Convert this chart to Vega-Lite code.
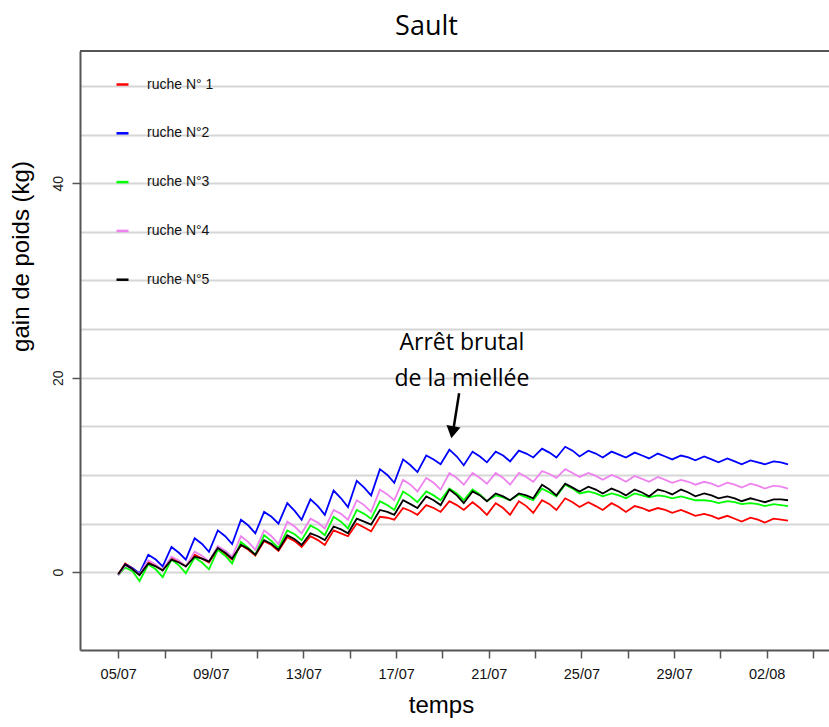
{
  "$schema": "https://vega.github.io/schema/vega-lite/v6.json",
  "description": "Gain de poids de cinq ruches a Sault, juillet-aout.",
  "width": 749,
  "height": 599,
  "autosize": {"type": "none"},
  "padding": {"left": 80, "top": 51, "right": 0, "bottom": 77},
  "background": "white",
  "title": {
    "text": "Sault",
    "font": "Open Sans",
    "fontSize": 27,
    "fontWeight": "normal",
    "color": "black",
    "anchor": "middle",
    "dx": -28,
    "offset": 9
  },
  "data": {
    "values": [
      {"jour": 0, "r1": -0.2, "r2": -0.3, "r3": -0.3, "r4": -0.3, "r5": -0.2},
      {"jour": 0.3, "r1": 0.9, "r2": 0.8, "r3": 0.5, "r4": 0.7, "r5": 0.8},
      {"jour": 0.62, "r1": 0.4, "r2": 0.4, "r3": 0.1, "r4": 0.3, "r5": 0.3},
      {"jour": 0.92, "r1": -0.2, "r2": -0.1, "r3": -0.9, "r4": -0.2, "r5": -0.3},
      {"jour": 1.3, "r1": 1.1, "r2": 1.8, "r3": 0.8, "r4": 1.2, "r5": 0.9},
      {"jour": 1.62, "r1": 0.7, "r2": 1.3, "r3": 0.3, "r4": 0.8, "r5": 0.6},
      {"jour": 1.92, "r1": 0.2, "r2": 0.6, "r3": -0.5, "r4": 0.2, "r5": 0.2},
      {"jour": 2.3, "r1": 1.5, "r2": 2.6, "r3": 1.3, "r4": 1.6, "r5": 1.3},
      {"jour": 2.62, "r1": 1.1, "r2": 2.0, "r3": 0.7, "r4": 1.2, "r5": 1.0},
      {"jour": 2.92, "r1": 0.6, "r2": 1.3, "r3": -0.1, "r4": 0.6, "r5": 0.6},
      {"jour": 3.3, "r1": 1.8, "r2": 3.5, "r3": 1.5, "r4": 2.1, "r5": 1.6},
      {"jour": 3.62, "r1": 1.4, "r2": 2.9, "r3": 1.0, "r4": 1.7, "r5": 1.4},
      {"jour": 3.92, "r1": 1.0, "r2": 2.1, "r3": 0.3, "r4": 1.1, "r5": 1.1},
      {"jour": 4.3, "r1": 2.4, "r2": 4.3, "r3": 2.3, "r4": 2.7, "r5": 2.5},
      {"jour": 4.62, "r1": 1.9, "r2": 3.7, "r3": 1.7, "r4": 2.2, "r5": 2.0},
      {"jour": 4.92, "r1": 1.3, "r2": 2.9, "r3": 0.9, "r4": 1.6, "r5": 1.4},
      {"jour": 5.3, "r1": 2.8, "r2": 5.4, "r3": 3.1, "r4": 3.7, "r5": 2.8},
      {"jour": 5.62, "r1": 2.3, "r2": 4.8, "r3": 2.5, "r4": 3.1, "r5": 2.4},
      {"jour": 5.92, "r1": 1.7, "r2": 4.0, "r3": 1.8, "r4": 2.3, "r5": 1.8},
      {"jour": 6.3, "r1": 3.2, "r2": 6.2, "r3": 3.8, "r4": 4.3, "r5": 3.3},
      {"jour": 6.62, "r1": 2.8, "r2": 5.7, "r3": 3.2, "r4": 3.7, "r5": 2.9},
      {"jour": 6.92, "r1": 2.2, "r2": 5.0, "r3": 2.5, "r4": 2.9, "r5": 2.3},
      {"jour": 7.3, "r1": 3.6, "r2": 7.1, "r3": 4.3, "r4": 5.2, "r5": 3.8},
      {"jour": 7.62, "r1": 3.2, "r2": 6.3, "r3": 3.9, "r4": 4.7, "r5": 3.4},
      {"jour": 7.92, "r1": 2.6, "r2": 5.4, "r3": 3.3, "r4": 4.0, "r5": 2.8},
      {"jour": 8.3, "r1": 3.7, "r2": 7.5, "r3": 4.8, "r4": 5.5, "r5": 4.0},
      {"jour": 8.62, "r1": 3.3, "r2": 6.8, "r3": 4.4, "r4": 5.1, "r5": 3.7},
      {"jour": 8.92, "r1": 2.8, "r2": 5.9, "r3": 3.8, "r4": 4.5, "r5": 3.3},
      {"jour": 9.3, "r1": 4.3, "r2": 8.4, "r3": 5.7, "r4": 6.4, "r5": 4.7},
      {"jour": 9.62, "r1": 4.0, "r2": 7.6, "r3": 5.2, "r4": 6.0, "r5": 4.4},
      {"jour": 9.92, "r1": 3.7, "r2": 6.7, "r3": 4.5, "r4": 5.4, "r5": 4.0},
      {"jour": 10.3, "r1": 5.0, "r2": 9.4, "r3": 6.4, "r4": 7.4, "r5": 5.5},
      {"jour": 10.62, "r1": 4.6, "r2": 8.7, "r3": 6.0, "r4": 6.9, "r5": 5.2},
      {"jour": 10.92, "r1": 4.2, "r2": 7.9, "r3": 5.5, "r4": 6.2, "r5": 4.9},
      {"jour": 11.3, "r1": 5.7, "r2": 10.6, "r3": 7.3, "r4": 8.5, "r5": 6.4},
      {"jour": 11.62, "r1": 5.6, "r2": 10.0, "r3": 6.9, "r4": 8.0, "r5": 6.2},
      {"jour": 11.92, "r1": 5.4, "r2": 9.2, "r3": 6.4, "r4": 7.4, "r5": 5.9},
      {"jour": 12.3, "r1": 6.6, "r2": 11.6, "r3": 8.3, "r4": 9.5, "r5": 7.4},
      {"jour": 12.62, "r1": 6.3, "r2": 11.0, "r3": 7.8, "r4": 9.0, "r5": 7.0},
      {"jour": 12.92, "r1": 5.9, "r2": 10.3, "r3": 7.2, "r4": 8.3, "r5": 6.6},
      {"jour": 13.3, "r1": 6.9, "r2": 12.0, "r3": 8.3, "r4": 9.7, "r5": 7.8},
      {"jour": 13.62, "r1": 6.6, "r2": 11.6, "r3": 7.9, "r4": 9.2, "r5": 7.4},
      {"jour": 13.92, "r1": 6.2, "r2": 11.1, "r3": 7.4, "r4": 8.5, "r5": 6.9},
      {"jour": 14.3, "r1": 7.3, "r2": 12.6, "r3": 8.6, "r4": 10.2, "r5": 8.5},
      {"jour": 14.62, "r1": 6.9, "r2": 11.9, "r3": 8.1, "r4": 9.7, "r5": 7.9},
      {"jour": 14.92, "r1": 6.4, "r2": 11.0, "r3": 7.4, "r4": 9.0, "r5": 7.1},
      {"jour": 15.3, "r1": 7.2, "r2": 12.4, "r3": 8.5, "r4": 10.2, "r5": 8.3},
      {"jour": 15.62, "r1": 6.6, "r2": 11.9, "r3": 8.0, "r4": 9.7, "r5": 7.9},
      {"jour": 15.92, "r1": 5.9, "r2": 11.3, "r3": 7.3, "r4": 9.1, "r5": 7.3},
      {"jour": 16.3, "r1": 7.1, "r2": 12.4, "r3": 7.9, "r4": 10.2, "r5": 8.1},
      {"jour": 16.62, "r1": 6.6, "r2": 12.0, "r3": 7.7, "r4": 9.7, "r5": 7.8},
      {"jour": 16.92, "r1": 5.9, "r2": 11.4, "r3": 7.4, "r4": 9.0, "r5": 7.4},
      {"jour": 17.3, "r1": 7.3, "r2": 12.5, "r3": 8.0, "r4": 10.2, "r5": 8.1},
      {"jour": 17.62, "r1": 6.8, "r2": 12.2, "r3": 7.7, "r4": 9.8, "r5": 7.9},
      {"jour": 17.92, "r1": 6.1, "r2": 11.8, "r3": 7.4, "r4": 9.3, "r5": 7.6},
      {"jour": 18.3, "r1": 7.4, "r2": 12.7, "r3": 8.6, "r4": 10.4, "r5": 9.0},
      {"jour": 18.62, "r1": 7.0, "r2": 12.3, "r3": 8.2, "r4": 10.1, "r5": 8.5},
      {"jour": 18.92, "r1": 6.4, "r2": 11.8, "r3": 7.8, "r4": 9.7, "r5": 7.9},
      {"jour": 19.3, "r1": 7.6, "r2": 12.9, "r3": 9.0, "r4": 10.6, "r5": 9.1},
      {"jour": 19.62, "r1": 7.2, "r2": 12.5, "r3": 8.6, "r4": 10.2, "r5": 8.7},
      {"jour": 19.92, "r1": 6.7, "r2": 11.9, "r3": 8.1, "r4": 9.8, "r5": 8.3},
      {"jour": 20.3, "r1": 7.2, "r2": 12.5, "r3": 8.3, "r4": 10.2, "r5": 8.8},
      {"jour": 20.62, "r1": 6.8, "r2": 12.2, "r3": 8.1, "r4": 9.9, "r5": 8.5},
      {"jour": 20.92, "r1": 6.4, "r2": 11.8, "r3": 7.8, "r4": 9.5, "r5": 8.1},
      {"jour": 21.3, "r1": 7.1, "r2": 12.4, "r3": 8.1, "r4": 10.0, "r5": 8.6},
      {"jour": 21.62, "r1": 6.7, "r2": 12.1, "r3": 7.9, "r4": 9.7, "r5": 8.3},
      {"jour": 21.92, "r1": 6.2, "r2": 11.8, "r3": 7.6, "r4": 9.3, "r5": 7.9},
      {"jour": 22.3, "r1": 6.8, "r2": 12.3, "r3": 8.1, "r4": 9.9, "r5": 8.5},
      {"jour": 22.62, "r1": 6.6, "r2": 12.0, "r3": 7.9, "r4": 9.6, "r5": 8.2},
      {"jour": 22.92, "r1": 6.3, "r2": 11.7, "r3": 7.7, "r4": 9.3, "r5": 7.8},
      {"jour": 23.3, "r1": 6.6, "r2": 12.2, "r3": 7.9, "r4": 9.8, "r5": 8.5},
      {"jour": 23.62, "r1": 6.4, "r2": 11.9, "r3": 7.8, "r4": 9.5, "r5": 8.3},
      {"jour": 23.92, "r1": 6.1, "r2": 11.6, "r3": 7.6, "r4": 9.2, "r5": 8.0},
      {"jour": 24.3, "r1": 6.4, "r2": 12.0, "r3": 7.8, "r4": 9.5, "r5": 8.5},
      {"jour": 24.62, "r1": 6.1, "r2": 11.8, "r3": 7.6, "r4": 9.3, "r5": 8.2},
      {"jour": 24.92, "r1": 5.8, "r2": 11.5, "r3": 7.4, "r4": 9.0, "r5": 7.8},
      {"jour": 25.3, "r1": 6.0, "r2": 11.9, "r3": 7.4, "r4": 9.3, "r5": 8.1},
      {"jour": 25.62, "r1": 5.8, "r2": 11.6, "r3": 7.3, "r4": 9.1, "r5": 7.9},
      {"jour": 25.92, "r1": 5.5, "r2": 11.3, "r3": 7.1, "r4": 8.8, "r5": 7.6},
      {"jour": 26.3, "r1": 5.8, "r2": 11.7, "r3": 7.3, "r4": 9.2, "r5": 7.8},
      {"jour": 26.62, "r1": 5.5, "r2": 11.4, "r3": 7.2, "r4": 9.0, "r5": 7.6},
      {"jour": 26.92, "r1": 5.2, "r2": 11.1, "r3": 7.0, "r4": 8.7, "r5": 7.3},
      {"jour": 27.3, "r1": 5.6, "r2": 11.5, "r3": 7.1, "r4": 9.1, "r5": 7.6},
      {"jour": 27.62, "r1": 5.4, "r2": 11.3, "r3": 7.0, "r4": 8.9, "r5": 7.4},
      {"jour": 27.92, "r1": 5.1, "r2": 11.1, "r3": 6.8, "r4": 8.6, "r5": 7.2},
      {"jour": 28.3, "r1": 5.5, "r2": 11.4, "r3": 7.0, "r4": 8.9, "r5": 7.5},
      {"jour": 28.62, "r1": 5.4, "r2": 11.3, "r3": 6.9, "r4": 8.8, "r5": 7.5},
      {"jour": 28.92, "r1": 5.3, "r2": 11.1, "r3": 6.8, "r4": 8.6, "r5": 7.4}
    ]
  },
  "layer": [
    {
      "transform": [{"fold": ["r1", "r2", "r3", "r4", "r5"], "as": ["ruche", "poids"]}],
      "mark": {"type": "line", "strokeWidth": 1.8},
      "encoding": {
        "x": {
          "field": "jour",
          "type": "quantitative",
          "scale": {"domain": [-1.65, 30.69], "nice": false, "zero": false},
          "axis": {
            "title": "temps",
            "values": [0, 2, 4, 6, 8, 10, 12, 14, 16, 18, 20, 22, 24, 26, 28, 30],
            "labelExpr": "datum.value % 4 == 0 ? timeFormat(datetime(2021, 6, 5 + datum.value), '%d/%m') : ''",
            "grid": false,
            "tickSize": 8,
            "tickColor": "#555555",
            "tickWidth": 1.5,
            "domainColor": "#555555",
            "domainWidth": 2,
            "labelFont": "Liberation Sans",
            "labelFontSize": 14.5,
            "labelColor": "#111111",
            "labelPadding": 9,
            "labelFlush": false,
            "labelOverlap": false,
            "titleFont": "Liberation Sans",
            "titleFontSize": 24,
            "titleFontWeight": "normal",
            "titleColor": "black",
            "titleX": 361,
            "titleY": 55,
            "titleAlign": "center",
            "titleBaseline": "middle"
          }
        },
        "y": {
          "field": "poids",
          "type": "quantitative",
          "scale": {"domain": [-8, 53.6], "nice": false, "zero": false},
          "axis": {
            "title": "gain de poids (kg)",
            "values": [0, 5, 10, 15, 20, 25, 30, 35, 40, 45, 50],
            "labelExpr": "datum.value % 20 == 0 ? datum.label : ''",
            "tickOpacity": {"condition": {"test": "datum.value % 20 == 0", "value": 1}, "value": 0},
            "grid": true,
            "gridColor": "#d6d6d6",
            "gridWidth": 2,
            "tickSize": 8,
            "tickColor": "#555555",
            "tickWidth": 1.5,
            "domainColor": "#555555",
            "domainWidth": 2,
            "labelAngle": -90,
            "labelAlign": "center",
            "labelBaseline": "alphabetic",
            "labelFont": "Liberation Sans",
            "labelFontSize": 14,
            "labelColor": "#222222",
            "labelPadding": 10,
            "titleFont": "Liberation Sans",
            "titleFontSize": 24,
            "titleFontWeight": "normal",
            "titleColor": "black",
            "titleAngle": -90,
            "titleX": -59,
            "titleY": 205,
            "titleAlign": "center",
            "titleBaseline": "middle"
          }
        },
        "color": {
          "field": "ruche",
          "type": "nominal",
          "scale": {
            "domain": ["r1", "r2", "r3", "r4", "r5"],
            "range": ["#ff0000", "#0000ff", "#00ff00", "#ee82ee", "#000000"]
          },
          "legend": {
            "title": null,
            "orient": "none",
            "legendX": 35,
            "legendY": 26,
            "padding": 0,
            "symbolType": "stroke",
            "symbolSize": 144,
            "symbolStrokeWidth": 2.5,
            "labelFont": "Liberation Sans",
            "labelFontSize": 14,
            "labelColor": "#111111",
            "labelOffset": 17,
            "rowPadding": 33.8,
            "labelExpr": "datum.label == 'r1' ? 'ruche N° 1' : 'ruche N°' + substring(datum.label, 1)"
          }
        }
      }
    },
    {
      "data": {"values": [{}]},
      "mark": {"type": "rule", "color": "#555555", "strokeWidth": 2},
      "encoding": {"y": {"datum": 53.6}}
    },
    {
      "data": {"values": [{}]},
      "mark": {"type": "rule", "color": "black", "strokeWidth": 2.5},
      "encoding": {
        "x": {"datum": 14.72},
        "y": {"datum": 18.4},
        "x2": {"datum": 14.48},
        "y2": {"datum": 14.8}
      }
    },
    {
      "data": {"values": [{}]},
      "mark": {"type": "point", "shape": "triangle-down", "filled": true, "color": "black", "opacity": 1, "size": 200, "angle": 10},
      "encoding": {
        "x": {"datum": 14.43},
        "y": {"datum": 14.4}
      }
    },
    {
      "data": {"values": [{}]},
      "mark": {
        "type": "text",
        "text": ["Arrêt brutal", "de la miellée"],
        "font": "Open Sans",
        "fontSize": 23,
        "lineHeight": 36,
        "align": "center",
        "baseline": "middle",
        "color": "black"
      },
      "encoding": {
        "x": {"datum": 14.84},
        "y": {"datum": 23.55}
      }
    }
  ],
  "config": {
    "view": {"stroke": null}
  }
}
